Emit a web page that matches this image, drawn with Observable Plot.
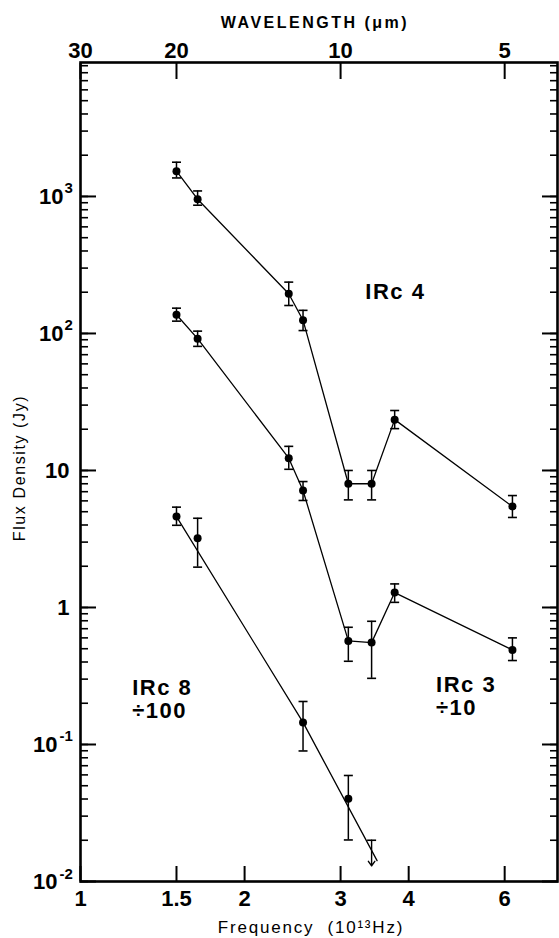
<!DOCTYPE html>
<html><head><meta charset="utf-8">
<script src="https://cdn.jsdelivr.net/npm/d3@7"></script>
<script src="https://cdn.jsdelivr.net/npm/@observablehq/plot@0.6"></script>
<style>
body{margin:0;background:#fff}
#chart svg{display:block}
</style>
</head><body><div id="chart"></div>
<script>
// Frequencies (10^13 Hz)
const freq = [1.5, 1.64, 2.41, 2.56, 3.10, 3.42, 3.77, 6.2];
// IRc 4 (Jy)
const irc4Flux = [1530, 955, 195, 125, 8.0, 8.0, 23.5, 5.46];
const irc4Lo   = [1365, 863, 160, 105, 6.1, 6.1, 20.2, 4.54];
const irc4Hi   = [1778, 1097, 237, 147.5, 10, 10, 27.4, 6.56];
// IRc 3 (÷10)
const irc3Flux = [137, 91.6, 12.3, 7.14, 0.57, 0.554, 1.285, 0.49];
const irc3Lo   = [123, 80.5, 10.2, 6.04, 0.405, 0.304, 1.09, 0.41];
const irc3Hi   = [153, 104, 15.0, 8.3, 0.717, 0.793, 1.486, 0.60];
// IRc 8 (÷100)
const irc8Freq = [1.5, 1.64, 2.56, 3.10];
const irc8Flux = [4.61, 3.2, 0.145, 0.0402];
const irc8Lo   = [3.98, 1.97, 0.0897, 0.0201];
const irc8Hi   = [5.40, 4.48, 0.206, 0.0594];
const irc8LimitFreq = [3.42];
const irc8LimitFlux = [0.02];
const irc8LimitTip  = [0.013];
const irc8FitFreq = [1.5, 2.56, 3.5];
const irc8FitFlux = [4.61, 0.145, 0.0142];
// Axes
const freqTicks = [1, 1.5, 2, 3, 4, 6];
const freqTickLabels = ["1", "1.5", "2", "3", "4", "6"];
const wavelengthTicks = [30, 20, 10, 5];   // micrometres
const fluxTicks = [0.01, 0.1, 1, 10, 100, 1000];
const fluxTickBase = ["10", "10", "1", "10", "10", "10"];
const fluxTickExp  = ["-2", "-1", "", "", "2", "3"];
// Titles
const topTitle = "WAVELENGTH (μm)";
const xTitle = "Frequency  (10¹³Hz)";
const yTitle = "Flux Density (Jy)";
// Series labels
const labelText = ["IRc 4", "IRc 3\n÷10", "IRc 8\n÷100"];
const labelFreq = [3.33, 4.49, 1.244];
const labelFlux = [177, 0.163, 0.155];

const C = 30; // c in (10^13 Hz · µm)
const yTicks = fluxTicks.map((v, i) => ({v, base: fluxTickBase[i], exp: fluxTickExp[i]}));
const capSymbol = {draw(ctx, size) { const r = Math.sqrt(size / Math.PI); ctx.moveTo(-r, 0); ctx.lineTo(r, 0); }};
const font = "'Liberation Sans', Arial, Helvetica, sans-serif";

function errorMarks(fx, lo, hi) {
  return [
    Plot.ruleX(fx, {x: fx, y1: lo, y2: hi, stroke: "black", strokeWidth: 1.5}),
    Plot.dot(fx, {x: fx, y: lo, symbol: capSymbol, r: 4.5, stroke: "black", fill: "none", strokeWidth: 1.6}),
    Plot.dot(fx, {x: fx, y: hi, symbol: capSymbol, r: 4.5, stroke: "black", fill: "none", strokeWidth: 1.6})
  ];
}

const chart = Plot.plot({
  width: 559, height: 938,
  marginLeft: 80, marginRight: 2, marginTop: 62, marginBottom: 57,
  style: {fontFamily: font, background: "white", color: "black"},
  x: {type: "log", domain: [1, 7.5]},
  y: {type: "log", domain: [0.01, 9500]},
  marks: [
    // ticks (inward)
    Plot.axisY({anchor: "left", ticks: 50, tickSize: 8, dx: 8, tickFormat: () => "", label: null, strokeWidth: 1.6}),
    Plot.axisY({anchor: "right", ticks: 50, tickSize: 8, dx: -8, tickFormat: () => "", label: null, strokeWidth: 1.6}),
    Plot.axisY({anchor: "left", ticks: fluxTicks, tickSize: 16, dx: 16, tickFormat: () => "", label: null, strokeWidth: 2}),
    Plot.axisY({anchor: "right", ticks: fluxTicks, tickSize: 16, dx: -16, tickFormat: () => "", label: null, strokeWidth: 2}),
    Plot.axisX({anchor: "bottom", ticks: freqTicks, tickSize: 15, dy: -15, tickFormat: () => "", label: null, strokeWidth: 2}),
    Plot.axisX({anchor: "top", ticks: wavelengthTicks.map(l => C / l), tickSize: 16, dy: 16, tickFormat: () => "", label: null, strokeWidth: 2}),
    Plot.frame({stroke: "black", strokeWidth: 2.6}),
    // tick labels
    Plot.text(freqTicks, {x: freqTicks, text: freqTickLabels, frameAnchor: "bottom", lineAnchor: "top", dy: 9, fontSize: 22, fontWeight: "bold", fill: "black"}),
    Plot.text(wavelengthTicks, {x: wavelengthTicks.map(l => C / l), text: wavelengthTicks.map(String), frameAnchor: "top", lineAnchor: "bottom", dy: -5, fontSize: 22, fontWeight: "bold", fill: "black"}),
    Plot.text(yTicks, {filter: d => d.exp === "", y: "v", text: "base", frameAnchor: "left", textAnchor: "end", lineAnchor: "middle", dx: -11, fontSize: 22, fontWeight: "bold", fill: "black"}),
    Plot.text(yTicks, {filter: d => d.exp !== "" && !d.exp.startsWith("-"), y: "v", text: "base", frameAnchor: "left", textAnchor: "end", lineAnchor: "middle", dx: -17, fontSize: 22, fontWeight: "bold", fill: "black"}),
    Plot.text(yTicks, {filter: d => d.exp !== "" && !d.exp.startsWith("-"), y: "v", text: "exp", frameAnchor: "left", textAnchor: "start", lineAnchor: "bottom", dx: -16, dy: -3, fontSize: 15, fontWeight: "bold", fill: "black"}),
    Plot.text(yTicks, {filter: d => d.exp.startsWith("-"), y: "v", text: "base", frameAnchor: "left", textAnchor: "end", lineAnchor: "middle", dx: -23, fontSize: 22, fontWeight: "bold", fill: "black"}),
    Plot.text(yTicks, {filter: d => d.exp.startsWith("-"), y: "v", text: "exp", frameAnchor: "left", textAnchor: "start", lineAnchor: "bottom", dx: -21, dy: -3, fontSize: 15, fontWeight: "bold", fill: "black"}),
    // axis titles
    Plot.text([topTitle], {text: d => d, frameAnchor: "top", textAnchor: "middle", lineAnchor: "bottom", dx: -4, dy: -35, fontSize: 16, fontWeight: "bold", fill: "black"}),
    Plot.text([xTitle], {text: d => d, frameAnchor: "bottom", textAnchor: "middle", lineAnchor: "bottom", dx: -8, dy: 51, fontSize: 17, fill: "black"}),
    Plot.text([yTitle], {text: d => d, frameAnchor: "left", textAnchor: "middle", rotate: -90, lineAnchor: "middle", dx: -61, dy: -4, fontSize: 16, fill: "black"}),
    // data
    Plot.line(freq, {x: freq, y: irc4Flux, stroke: "black", strokeWidth: 1.3}),
    Plot.line(freq, {x: freq, y: irc3Flux, stroke: "black", strokeWidth: 1.3}),
    Plot.line(irc8FitFreq, {x: irc8FitFreq, y: irc8FitFlux, stroke: "black", strokeWidth: 1.3}),
    ...errorMarks(freq, irc4Lo, irc4Hi),
    ...errorMarks(freq, irc3Lo, irc3Hi),
    ...errorMarks(irc8Freq, irc8Lo, irc8Hi),
    Plot.arrow(irc8LimitFreq, {x: irc8LimitFreq, y1: irc8LimitFlux, y2: irc8LimitTip, stroke: "black", strokeWidth: 1.4, headLength: 6, headAngle: 70}),
    Plot.dot(irc8LimitFreq, {x: irc8LimitFreq, y: irc8LimitFlux, symbol: capSymbol, r: 4.5, stroke: "black", fill: "none", strokeWidth: 1.6}),
    Plot.dot(freq, {x: freq, y: irc4Flux, r: 4, fill: "black"}),
    Plot.dot(freq, {x: freq, y: irc3Flux, r: 4, fill: "black"}),
    Plot.dot(irc8Freq, {x: irc8Freq, y: irc8Flux, r: 4, fill: "black"}),
    // series labels
    Plot.text(labelText, {x: labelFreq, y: labelFlux, text: labelText, textAnchor: "start", lineAnchor: "bottom", lineHeight: 1.08, fontSize: 22, fontWeight: "bold", fill: "black"})
  ]
});

// letter spacing for titles and series labels
const spacing = new Map([[topTitle, "2.5px"], [xTitle, "1.8px"], [yTitle, "1.6px"], ["IRc 4", "1.5px"], ["IRc 3", "1.5px"], ["IRc 8", "1.5px"], ["÷10", "1.5px"], ["÷100", "1.5px"]]);
d3.select(chart).selectAll("text").each(function() {
  const s = spacing.get(this.textContent);
  if (s) this.style.letterSpacing = s;
});
d3.select(chart).selectAll("tspan").each(function() {
  const s = spacing.get(this.textContent);
  if (s) this.style.letterSpacing = s;
});
document.getElementById("chart").appendChild(chart);
</script>
</body></html>
